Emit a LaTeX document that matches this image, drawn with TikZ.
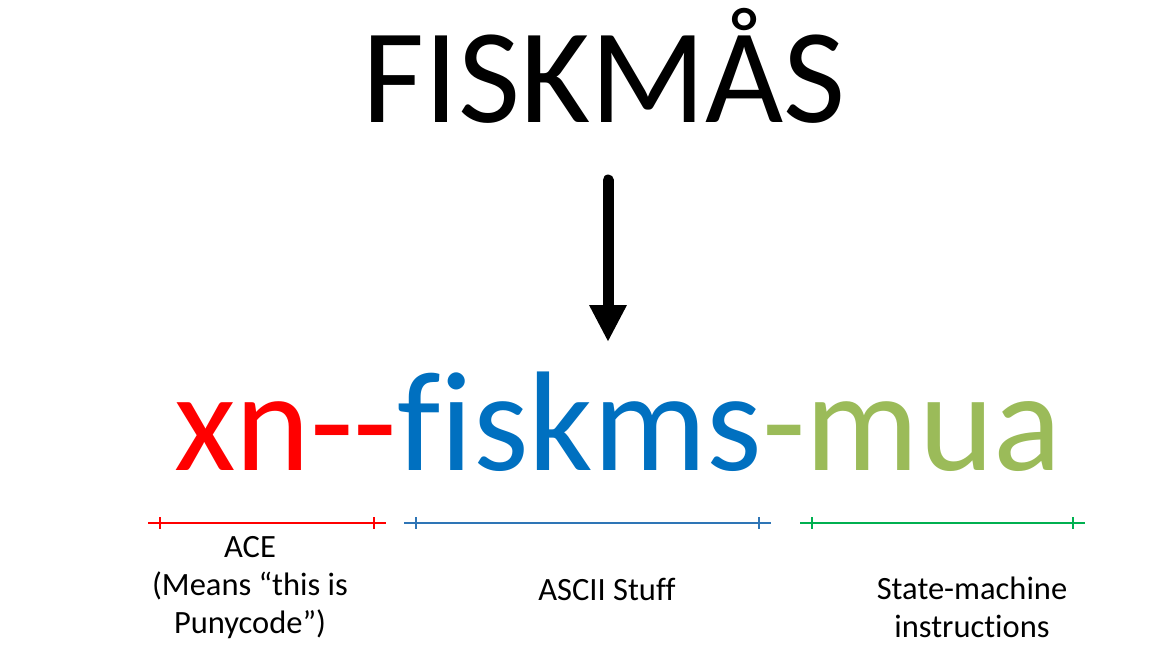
\documentclass[tikz,border=0pt]{standalone}
\usepackage{fontspec}
\setmainfont{Carlito}[Ligatures=NoCommon]
\usetikzlibrary{arrows.meta}
\definecolor{cred}{HTML}{FF0000}
\definecolor{cblue}{HTML}{0070C0}
\definecolor{cgreen}{HTML}{9BBB59}
\definecolor{lred}{HTML}{FF0000}
\definecolor{lblue}{HTML}{2E75B6}
\definecolor{lgreen}{HTML}{00B050}
\tikzset{
  title/.style={inner sep=0pt, anchor=base, font=\fontsize{135}{150}\selectfont},
  big/.style={inner sep=0pt, anchor=base, font=\fontsize{142}{150}\selectfont},
  lbl/.style={inner sep=0pt, anchor=base, align=center, font=\fontsize{32.5}{38}\selectfont},
  span/.style={line width=1.6pt},
  tick/.style={line width=1.2pt}
}
\begin{document}
\begin{tikzpicture}[x=1pt,y=-1pt]
\useasboundingbox (0,0) rectangle (1153,662);
\node[title] (title) at (604,122) {FISKMÅS};
\coordinate (as) at (608,180);
\coordinate (ae) at (608,342);
\draw[line width=11pt, line cap=round, -{Triangle[length=37pt,width=35pt]}] (as) -- (ae);
\node[big] (code) at (618,470) {\textcolor{cred}{xn-{}-}\textcolor{cblue}{fiskms}\textcolor{cgreen}{-mua}};
% spans
\foreach \c/\a/\b/\p/\q/\n in {lred/148/386/160/374/r, lblue/404/771/416/759/b, lgreen/800/1085/812/1073/g}{
  \coordinate (\n1) at (\a,523);
  \coordinate (\n2) at (\b,523);
  \draw[span,\c] (\n1) -- (\n2);
  \draw[tick,\c] (\p,517) -- (\p,529);
  \draw[tick,\c] (\q,517) -- (\q,529);
}
\node[lbl] (ace) at (250,633) {ACE\\(Means “this is\\Punycode”)};
\node[lbl] (ascii) at (607,600) {ASCII Stuff};
\node[lbl] (sm) at (972,637) {State-machine\\instructions};
\end{tikzpicture}
\end{document}
